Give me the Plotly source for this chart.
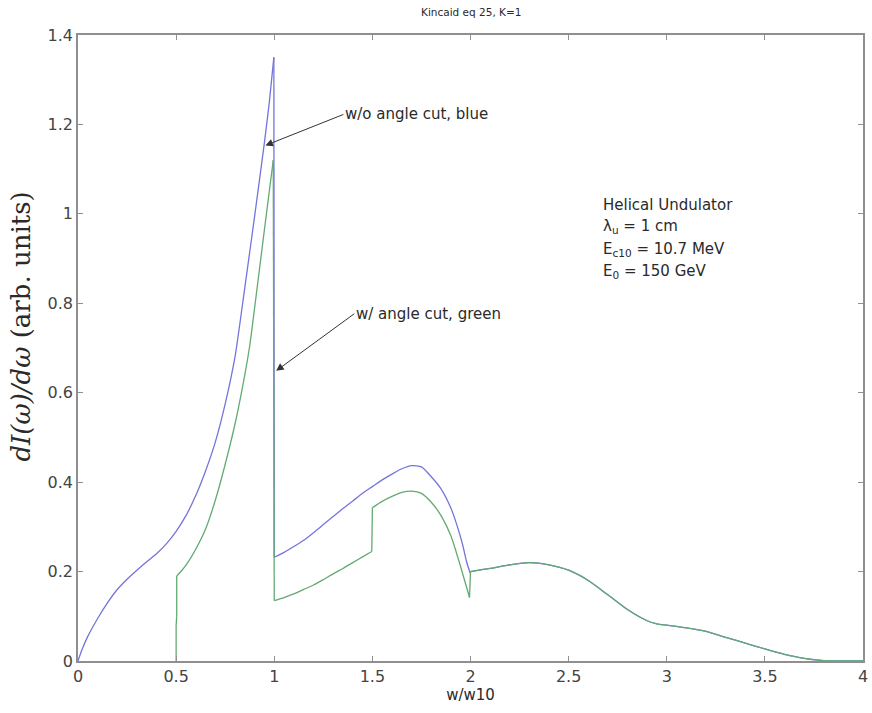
import plotly.graph_objects as go

# Blue: without angle cut (vertical steps where x repeats closely)
blue_x = [0.0, 0.02, 0.05, 0.1, 0.15, 0.2, 0.25, 0.3, 0.35, 0.4, 0.45, 0.5, 0.55, 0.6, 0.65, 0.7, 0.75, 0.8, 0.85, 0.9, 0.95, 0.975, 0.998,
          1.0, 1.05, 1.1, 1.15, 1.2, 1.25, 1.3, 1.35, 1.4, 1.45, 1.5, 1.55, 1.6, 1.65, 1.7, 1.75, 1.8, 1.85, 1.9, 1.93, 1.96, 1.98, 1.998]
blue_y = [0.0, 0.025, 0.055, 0.095, 0.13, 0.16, 0.183, 0.203, 0.222, 0.24, 0.262, 0.29, 0.325, 0.37, 0.425, 0.49, 0.575, 0.68, 0.835, 0.995, 1.16, 1.25, 1.35,
          0.232, 0.243, 0.256, 0.27, 0.287, 0.305, 0.323, 0.341, 0.358, 0.375, 0.39, 0.405, 0.418, 0.43, 0.437, 0.434, 0.412, 0.385, 0.342, 0.305, 0.26, 0.222, 0.197]

# Green: with angle cut
green_x = [0.5, 0.5, 0.503, 0.503, 0.53, 0.553, 0.6, 0.65, 0.7, 0.75, 0.8, 0.85, 0.875, 0.9, 0.95, 0.995,
           1.0, 1.05, 1.1, 1.15, 1.2, 1.25, 1.3, 1.35, 1.4, 1.45, 1.497,
           1.5, 1.55, 1.6, 1.65, 1.7, 1.75, 1.8, 1.85, 1.9, 1.94, 1.97, 1.995,
           2.0, 2.1, 2.2, 2.3, 2.4, 2.5, 2.6, 2.7, 2.8, 2.9, 2.95, 3.0, 3.1, 3.2, 3.3, 3.4, 3.5, 3.6, 3.7, 3.8, 3.9, 4.0]
green_y = [0.0, 0.08, 0.1, 0.19, 0.203, 0.216, 0.25, 0.295, 0.36, 0.44, 0.53, 0.64, 0.705, 0.79, 0.965, 1.12,
           0.135, 0.142, 0.15, 0.16, 0.17, 0.182, 0.195, 0.207, 0.22, 0.233, 0.245,
           0.343, 0.357, 0.368, 0.377, 0.38, 0.375, 0.355, 0.325, 0.28, 0.225, 0.18, 0.142,
           0.2, 0.207, 0.215, 0.22, 0.215, 0.203, 0.18, 0.148, 0.115, 0.09, 0.083, 0.08, 0.074, 0.066, 0.053, 0.04, 0.027, 0.015, 0.006, 0.001, 0.0, 0.0]

x_ticks = [0, 0.5, 1, 1.5, 2, 2.5, 3, 3.5, 4]
x_ticklabels = ["0", "0.5", "1", "1.5", "2", "2.5", "3", "3.5", "4"]
y_ticks = [0, 0.2, 0.4, 0.6, 0.8, 1.0, 1.2, 1.4]
y_ticklabels = ["0", "0.2", "0.4", "0.6", "0.8", "1", "1.2", "1.4"]

BLUE = "#7474dc"
GREEN = "#62aa72"
AX = "#8f8f8f"
TXT = "#2a2a2a"
FONT = "DejaVu Sans, Verdana, sans-serif"

# blue continues underneath green beyond w/w10 = 2
i2 = green_x.index(2.0)
blue_full_x = blue_x + green_x[i2:]
blue_full_y = blue_y + green_y[i2:]


def split(xs, ys, step=0.006):
    """Smooth runs (spline) separated by None; steep steps returned as straight pieces."""
    sx, sy, jx, jy = [xs[0]], [ys[0]], [], []
    for k in range(1, len(xs)):
        if xs[k] - xs[k - 1] < step:
            jx += [xs[k - 1], xs[k], None]
            jy += [ys[k - 1], ys[k], None]
            sx += [None, xs[k]]
            sy += [None, ys[k]]
        else:
            sx.append(xs[k])
            sy.append(ys[k])
    return sx, sy, jx, jy


fig = go.Figure()
for xs, ys, col in [(blue_full_x, blue_full_y, BLUE), (green_x, green_y, GREEN)]:
    sx, sy, jx, jy = split(xs, ys)
    fig.add_trace(go.Scatter(x=sx, y=sy, mode="lines", connectgaps=False,
                             line=dict(color=col, width=1.3, shape="spline", smoothing=0.6),
                             showlegend=False, hoverinfo="skip"))
    fig.add_trace(go.Scatter(x=jx, y=jy, mode="lines", connectgaps=False,
                             line=dict(color=col, width=1.3), showlegend=False, hoverinfo="skip"))

axis_common = dict(showgrid=False, zeroline=False, showline=True, linecolor=AX, linewidth=1.6,
                   mirror="ticks", ticks="inside", ticklen=5, tickcolor=AX, tickwidth=1,
                   tickfont=dict(family=FONT, size=16, color="#444"))
fig.update_xaxes(range=[0, 4], tickvals=x_ticks, ticktext=x_ticklabels,
                 title=dict(text="w/w10", font=dict(family=FONT, size=15, color=TXT), standoff=3),
                 **axis_common)
fig.update_yaxes(range=[0, 1.4], tickvals=y_ticks, ticktext=y_ticklabels, **axis_common)

annotations = [
    dict(text="<i>dI(ω)/dω</i> (arb. units)", xref="paper", yref="paper", x=-0.072, y=0.535,
         textangle=-90, showarrow=False, xanchor="center", yanchor="middle",
         font=dict(family="DejaVu Serif, Liberation Serif, serif", size=26, color=TXT)),
    dict(text="Kincaid eq 25, K=1", xref="paper", yref="paper", x=0.5, y=1.0, yshift=23,
         showarrow=False, xanchor="center", yanchor="middle",
         font=dict(family=FONT, size=10.5, color=TXT)),
    dict(x=0.955, y=1.153, xref="x", yref="y", ax=78, ay=-31, text="w/o angle cut, blue",
         showarrow=True, xanchor="left", yanchor="middle",
         arrowhead=2, arrowsize=1.5, arrowwidth=1, arrowcolor="#333",
         font=dict(family=FONT, size=15, color=TXT)),
    dict(x=1.01, y=0.649, xref="x", yref="y", ax=78, ay=-57, text="w/ angle cut, green",
         showarrow=True, xanchor="left", yanchor="middle",
         arrowhead=2, arrowsize=1.5, arrowwidth=1, arrowcolor="#333",
         font=dict(family=FONT, size=15, color=TXT)),
]
info_lines = ["Helical Undulator", "λ<sub>u</sub> = 1 cm", "E<sub>c10</sub> = 10.7 MeV", "E<sub>0</sub> = 150 GeV"]
info_py = [206, 227, 250, 272]
for txt, py in zip(info_lines, info_py):
    annotations.append(dict(text=txt, xref="paper", yref="paper", x=(605 - 78) / 791, y=(661 - py) / 625,
                            showarrow=False, xanchor="left", yanchor="middle",
                            font=dict(family=FONT, size=15, color=TXT)))

fig.update_layout(width=872, height=713, margin=dict(l=78, r=4, t=35, b=52),
                  plot_bgcolor="white", paper_bgcolor="white", annotations=annotations)

fig.write_html("out.html")
